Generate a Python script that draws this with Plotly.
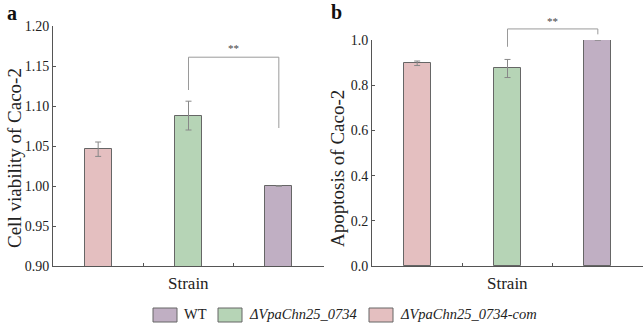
import plotly.graph_objects as go

# ---- data ----
strains = ["ΔVpaChn25_0734-com", "ΔVpaChn25_0734", "WT"]
bar_colors = ["#e4bfc0", "#b6d4b6", "#c0afc3"]
viability = [1.046, 1.088, 1.000]
viability_err = [0.009, 0.018, 0.0]
apoptosis = [0.897, 0.874, 1.000]
apoptosis_err = [0.010, 0.040, 0.0]
legend_order = ["WT", "ΔVpaChn25_0734", "ΔVpaChn25_0734-com"]
legend_italic = [False, True, True]
yticks_a = [0.90, 0.95, 1.00, 1.05, 1.10, 1.15, 1.20]
yticks_b = [0.0, 0.2, 0.4, 0.6, 0.8, 1.0]
range_a = [0.90, 1.20]
range_b = [0.0, 1.0]
ytitle_a = "Cell viability of Caco-2"
ytitle_b = "Apoptosis of Caco-2"
xtitle = "Strain"
# significance brackets: (left cat, right cat, left-leg bottom, right-leg bottom, top, label y)
sig_a = ("ΔVpaChn25_0734", "WT", 1.120, 1.0725, 1.161, 1.172)
sig_b = ("ΔVpaChn25_0734", "WT", 0.970, 1.025, 1.049, 1.086)

FONT = "Liberation Serif, Times New Roman, serif"
AX = "#555555"
W, H = 644, 324

fig = go.Figure()
fig.add_trace(go.Bar(
    x=strains, y=viability, width=0.3, xaxis="x", yaxis="y",
    marker=dict(color=bar_colors, line=dict(color="#666666", width=1)),
    error_y=dict(type="data", array=viability_err, color="#888888", thickness=1, width=3),
    showlegend=False))
fig.add_trace(go.Bar(
    x=strains, y=apoptosis, width=0.3, xaxis="x2", yaxis="y2",
    marker=dict(color=bar_colors, line=dict(color="#666666", width=1)),
    error_y=dict(type="data", array=apoptosis_err, color="#888888", thickness=1, width=3),
    showlegend=False))

def xax(domain, anchor):
    return dict(domain=domain, anchor=anchor, type="category", categoryorder="array",
                categoryarray=strains, range=[-0.5, 2.5], showticklabels=False,
                ticks="inside", tickson="boundaries", ticklen=3, tickcolor=AX,
                showline=True, linecolor=AX, linewidth=1, showgrid=False, zeroline=False,
                automargin=False)

def yax(domain, anchor, rng, ticks, fmt):
    return dict(domain=domain, anchor=anchor, range=rng, tickvals=ticks, tickformat=fmt,
                ticks="inside", ticklen=3, tickcolor=AX, showline=True, linecolor=AX,
                linewidth=1, showgrid=False, zeroline=False, automargin=False,
                tickfont=dict(family=FONT, size=14, color="#222"))

ybot = 1 - 266 / H
xa_dom = [53 / W, 324 / W]
xb_dom = [372 / W, 643 / W]
fig.update_layout(
    width=W, height=H, margin=dict(l=0, r=0, t=0, b=0, autoexpand=False),
    paper_bgcolor="white", plot_bgcolor="white", bargap=0,
    font=dict(family=FONT),
    xaxis=xax(xa_dom, "y"),
    yaxis=yax([ybot, 1 - 26 / H], "x", range_a, yticks_a, ".2f"),
    xaxis2=xax(xb_dom, "y2"),
    yaxis2=yax([ybot, 1 - 40 / H], "x2", range_b, yticks_b, ".1f"),
)

# axis titles
tfont = dict(family=FONT, size=19, color="#222")
fig.add_annotation(xref="paper", yref="paper", x=15 / W, y=1 - 158 / H, text=ytitle_a,
                   textangle=-90, xanchor="center", yanchor="middle", showarrow=False, font=tfont)
fig.add_annotation(xref="paper", yref="paper", x=337 / W, y=1 - 169 / H, text=ytitle_b,
                   textangle=-90, xanchor="center", yanchor="middle", showarrow=False, font=tfont)
for dom in (xa_dom, xb_dom):
    fig.add_annotation(xref="paper", yref="paper", x=sum(dom) / 2, y=1 - 283 / H, text=xtitle,
                       xanchor="center", yanchor="middle", showarrow=False,
                       font=dict(family=FONT, size=17, color="#222"))

def bracket(xr, yr, rng, sig):
    lo, hi = rng
    f = lambda v: (v - lo) / (hi - lo)
    l, r, lb, rb, top, ty = sig
    yd = yr + " domain"
    line = dict(color="#9a9a9a", width=1)
    fig.add_shape(type="line", xref=xr, yref=yd, x0=l, x1=l, y0=f(lb), y1=f(top), line=line)
    fig.add_shape(type="line", xref=xr, yref=yd, x0=l, x1=r, y0=f(top), y1=f(top), line=line)
    fig.add_shape(type="line", xref=xr, yref=yd, x0=r, x1=r, y0=f(rb), y1=f(top), line=line)
    li, ri = strains.index(l), strains.index(r)
    fig.add_annotation(xref=xr + " domain", yref=yd, x=((li + ri) / 2 + 0.5) / len(strains), y=f(ty),
                       xanchor="center", yanchor="middle",
                       text="**", showarrow=False, font=dict(family=FONT, size=11, color="#444"))

bracket("x", "y", range_a, sig_a)
bracket("x2", "y2", range_b, sig_b)

# panel labels
fig.add_annotation(xref="paper", yref="paper", x=12 / W, y=1 - 13 / H, text="<b>a</b>",
                   xanchor="center", yanchor="middle",
                   showarrow=False, font=dict(family=FONT, size=20, color="#111"))
fig.add_annotation(xref="paper", yref="paper", x=336 / W, y=1 - 12 / H, text="<b>b</b>",
                   xanchor="center", yanchor="middle",
                   showarrow=False, font=dict(family=FONT, size=20, color="#111"))

# manual legend
sw_x = [153, 218, 369]
for name, ital, sx in zip(legend_order, legend_italic, sw_x):
    col = bar_colors[strains.index(name)]
    fig.add_shape(type="rect", xref="paper", yref="paper",
                  x0=sx / W, x1=(sx + 24) / W, y0=1 - 322 / H, y1=1 - 308 / H,
                  fillcolor=col, line=dict(color="#666666", width=1))
    txt = f"<i>{name}</i>" if ital else name
    fig.add_annotation(xref="paper", yref="paper", x=(sx + 29) / W, y=1 - 314 / H,
                       xanchor="left", yanchor="middle", text=txt, showarrow=False,
                       font=dict(family=FONT, size=14.5, color="#222"))

fig.write_html("out.html", config={"displayModeBar": False},
               post_script="document.body.style.margin='0px';")
